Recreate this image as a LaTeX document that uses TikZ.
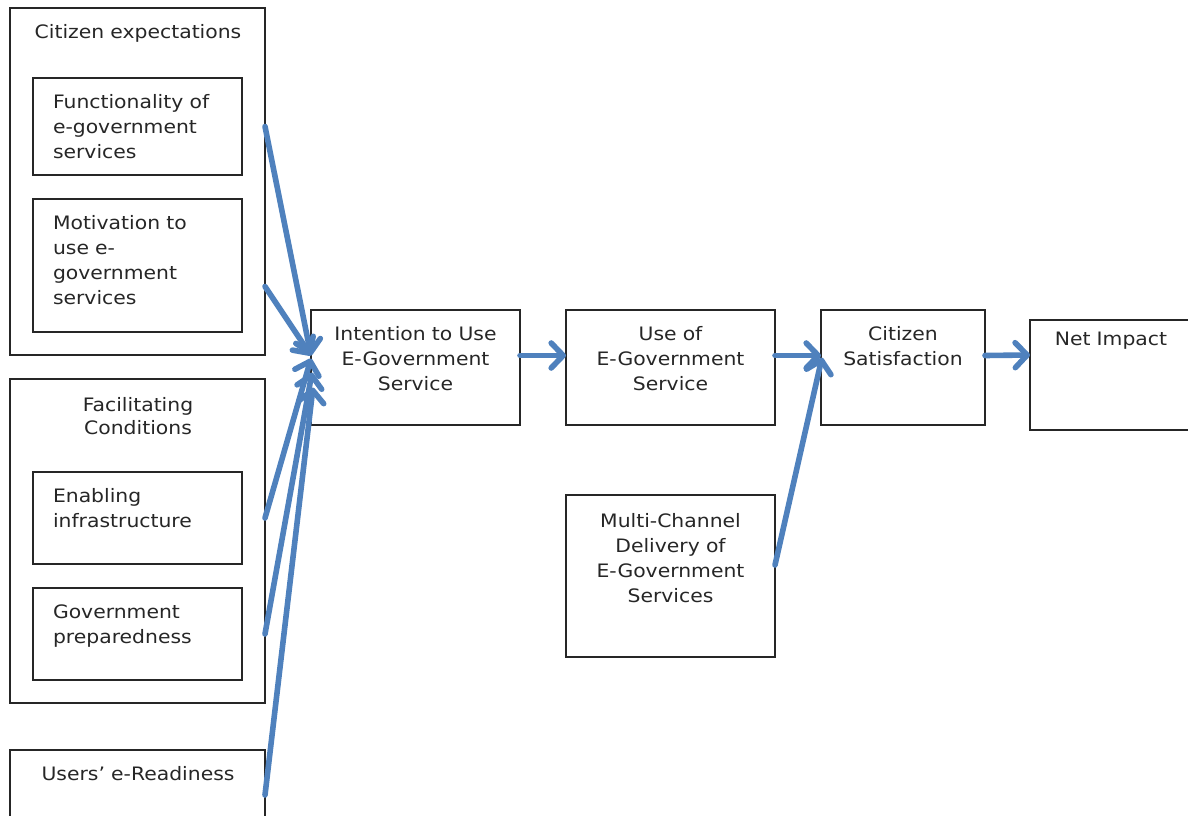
\documentclass[tikz,border=0pt]{standalone}
\usepackage{fontspec}
\setmainfont{DejaVu Sans}[FakeStretch=1.1]
\usetikzlibrary{arrows.meta,calc}
\definecolor{arrowblue}{HTML}{4F81BD}
\definecolor{linegray}{HTML}{262626}
\begin{document}
\begin{tikzpicture}[x=1pt,y=-1pt,
  box/.style={draw=linegray, line width=1.4pt, rectangle, inner sep=0, outer sep=0},
  txt/.style={inner sep=0, outer sep=0, text=linegray, font=\fontsize{18.5}{25}\selectfont},
  ltxt/.style={txt, text width=185pt, align=left, anchor=base west},
  ctxt/.style={txt, text width=250pt, align=center, anchor=base},
  flow/.style={draw=arrowblue, line width=5.6pt, line cap=round,
    -{Straight Barb[round, length=12pt, width=25pt]}}]
\useasboundingbox (0,0) rectangle (1188,816);
\begin{scope}
\clip (0,0) rectangle (1188,816);
% boxes
\node[box, minimum width=255, minimum height=347] (ce) at (137.5,181.5) {};
\node[box, minimum width=209, minimum height=97] (func) at (137.5,126.5) {};
\node[box, minimum width=209, minimum height=133] (motiv) at (137.5,265.5) {};
\node[box, minimum width=255, minimum height=324] (fc) at (137.5,541) {};
\node[box, minimum width=209, minimum height=92] (enab) at (137.5,518) {};
\node[box, minimum width=209, minimum height=92] (gov) at (137.5,634) {};
\node[box, minimum width=255, minimum height=150] (users) at (137.5,825) {};
\node[box, minimum width=209, minimum height=115] (intent) at (415.5,367.5) {};
\node[box, minimum width=209, minimum height=115] (use) at (670.5,367.5) {};
\node[box, minimum width=164, minimum height=115] (sat) at (903,367.5) {};
\node[box, minimum width=220, minimum height=110] (net) at (1140,375) {};
\node[box, minimum width=209, minimum height=162] (multi) at (670.5,576) {};
% texts
\node[ctxt] (t-ce) at (138,38) {Citizen expectations};
\node[ltxt] (t-func) at (53,108) {Functionality of\\e-government\\services};
\node[ltxt] (t-motiv) at (53,229) {Motivation to\\use e-\\government\\services};
\node[ctxt] (t-fc) at (138,411) {Facilitating\\[-2pt]Conditions};
\node[ltxt] (t-enab) at (53,502) {Enabling\\infrastructure};
\node[ltxt] (t-gov) at (53,618) {Government\\preparedness};
\node[ctxt] (t-users) at (138,780) {Users’ e-Readiness};
\node[ctxt] (t-intent) at (415.5,340) {Intention to Use\\E-Government\\Service};
\node[ctxt] (t-use) at (670.5,340) {Use of\\E-Government\\Service};
\node[ctxt] (t-sat) at (903,340) {Citizen\\Satisfaction};
\node[ctxt] (t-net) at (1111,345) {Net Impact};
\node[ctxt] (t-multi) at (670.5,527) {Multi-Channel\\Delivery of\\E-Government\\Services};
% connectors
\draw[flow] (ce.east |- func) -- ($(intent.west)+(0,-12)$);
\draw[flow] ($(ce.east |- motiv)+(0,21)$) -- ($(intent.west)+(0,-12)$);
\draw[flow] (fc.east |- enab) -- ($(intent.west)+(0,-9)$);
\draw[flow] (fc.east |- gov) -- ($(intent.west)+(1,5)$);
\draw[flow] ($(users.north east)+(0,45)$) -- ($(intent.west)+(2,20)$);
\draw[flow] ($(intent.east)+(0,-12)$) -- ($(use.west)+(0,-12)$);
\draw[flow] ($(use.east)+(0,-12)$) -- ($(sat.west)+(0,-12)$);
\draw[flow] ($(sat.east)+(0,-12)$) -- ($(net.west)+(0,-20)$);
\draw[flow] ($(multi.east)+(0,-11)$) -- ($(sat.west)+(1,-10)$);
\end{scope}
\end{tikzpicture}
\end{document}
